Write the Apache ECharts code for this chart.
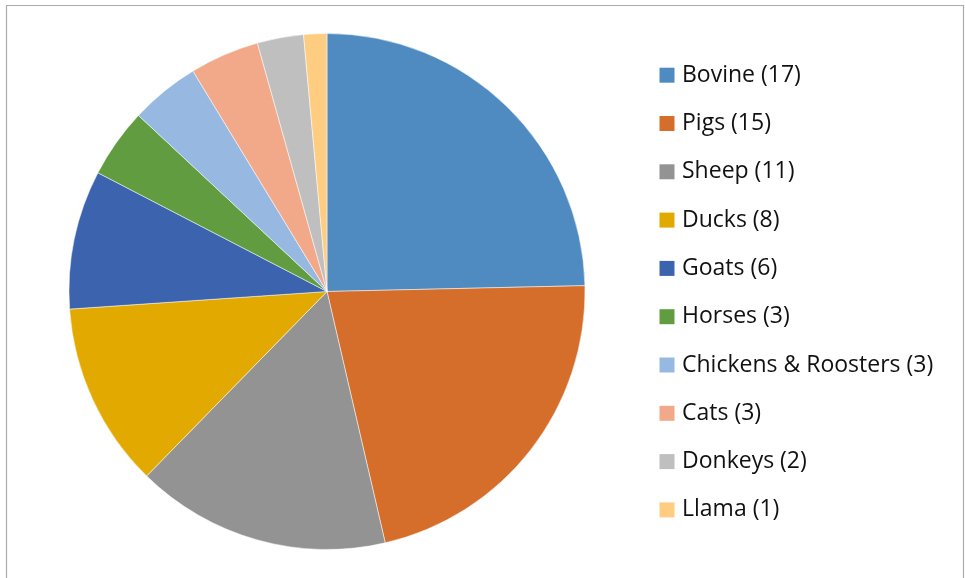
<!DOCTYPE html>
<html>
<head>
<meta charset="utf-8">
<script src="https://cdn.jsdelivr.net/npm/echarts@6/dist/echarts.min.js"></script>
<style>
  html, body { margin: 0; padding: 0; background: #fff; }
  #chart { width: 965px; height: 578px; }
</style>
</head>
<body>
<div id="chart"></div>
<script>
(function() {
    // 数据
    var animals = ['Bovine', 'Pigs', 'Sheep', 'Ducks', 'Goats', 'Horses', 'Chickens & Roosters', 'Cats', 'Donkeys', 'Llama'];
    var counts = [17, 15, 11, 8, 6, 3, 3, 3, 2, 1];
    var colors = ['#4F8BC0', '#D56E2A', '#939393', '#E2A900', '#3C63AE', '#629C40', '#97B9E1', '#F2A98A', '#BFBFBF', '#FFCD82'];

    var myChart = echarts.init(document.getElementById('chart'));

    var pieData = animals.map(function(name, i) {
        return { name: name, value: counts[i], itemStyle: { color: colors[i] } };
    });

    var option = {
        animation: false,
        textStyle: { fontFamily: 'Open Sans, Liberation Sans, sans-serif' },
        graphic: [{
            type: 'rect',
            silent: true,
            shape: { x: 6.5, y: 5.5, width: 957, height: 600 },
            style: { fill: 'none', stroke: '#ababab', lineWidth: 1.2 }
        }],
        legend: {
            orient: 'vertical',
            left: 659.5,
            top: 63.7,
            padding: 0,
            itemWidth: 15,
            itemHeight: 15,
            itemGap: 25.3,
            icon: 'rect',
            itemStyle: { borderWidth: 0 },
            textStyle: { fontSize: 23, color: '#111', lineHeight: 23, padding: [0, 0, 0, 2.5] },
            formatter: function(name) {
                return name + ' (' + counts[animals.indexOf(name)] + ')';
            },
            data: animals
        },
        series: [{
            type: 'pie',
            center: [327, 291.5],
            radius: 258,
            startAngle: 90,
            clockwise: true,
            label: { show: false },
            labelLine: { show: false },
            emphasis: { disabled: true },
            itemStyle: { borderColor: '#fff', borderWidth: 0.5 },
            data: pieData
        }]
    };

    myChart.setOption(option);
})();
</script>
</body>
</html>
